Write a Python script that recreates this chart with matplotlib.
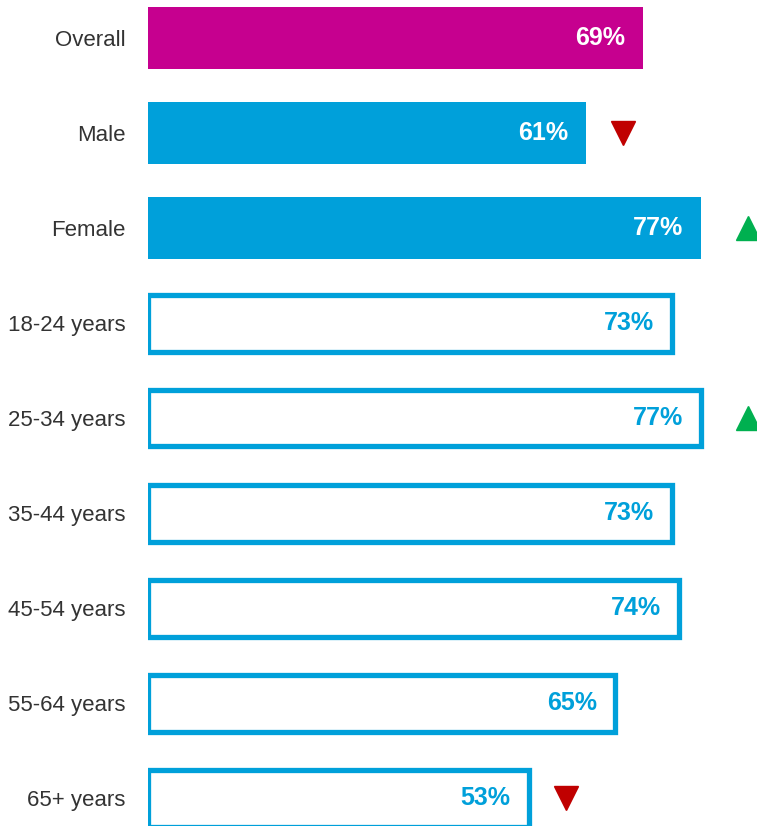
import matplotlib.pyplot as plt
from matplotlib import font_manager

names = {f.name for f in font_manager.fontManager.ttflist}
narrow = 'Liberation Sans Narrow' if 'Liberation Sans Narrow' in names else 'Liberation Sans'
plt.rcParams['font.family'] = [narrow, 'DejaVu Sans']

categories = ['Overall', 'Male', 'Female', '18-24 years', '25-34 years',
              '35-44 years', '45-54 years', '55-64 years', '65+ years']
values = [69, 61, 77, 73, 77, 73, 74, 65, 53]
# bar style: overall / gender (filled) / age (outlined)
groups = ['overall', 'gender', 'gender', 'age', 'age', 'age', 'age', 'age', 'age']
# significant change markers
trend = [None, 'down', 'up', None, 'up', None, None, None, 'down']

magenta = '#C6008F'
blue = '#00A0DA'

fig = plt.figure(figsize=(7.57, 8.26), dpi=100)
ax = fig.add_axes([148 / 757, 0, 1 - 148 / 757, 1])

ypos = list(range(len(categories)))
for y, v, g in zip(ypos, values, groups):
    if g == 'overall':
        ax.barh(y, v, height=0.65, color=magenta)
        ax.text(v - 2.5, y, f'{v}%', ha='right', va='center', color='white',
                fontsize=18, fontweight='bold')
    elif g == 'gender':
        ax.barh(y, v, height=0.65, color=blue)
        ax.text(v - 2.5, y, f'{v}%', ha='right', va='center', color='white',
                fontsize=18, fontweight='bold')
    else:
        ax.barh(y, v, height=0.6, color='white', edgecolor=blue, linewidth=3.8)
        ax.text(v - 2.5, y, f'{v}%', ha='right', va='center', color=blue,
                fontsize=18, fontweight='bold')

for y, v, t in zip(ypos, values, trend):
    if t == 'up':
        ax.plot(v + 6.5, y, marker='^', color='#00B050', markersize=17, clip_on=False)
    elif t == 'down':
        ax.plot(v + 5.2, y, marker='v', color='#C00000', markersize=17, clip_on=False)

ax.set_xlim(0, 609 / 7.18)
ax.set_ylim((826 - 38) / 95, -0.4)
ax.set_yticks(ypos)
ax.set_yticklabels(categories, fontsize=16, color='#333333')
ax.tick_params(axis='y', length=0, pad=16)
ax.set_xticks([])
for s in ax.spines.values():
    s.set_visible(False)

fig.savefig('out.png', dpi=100)
